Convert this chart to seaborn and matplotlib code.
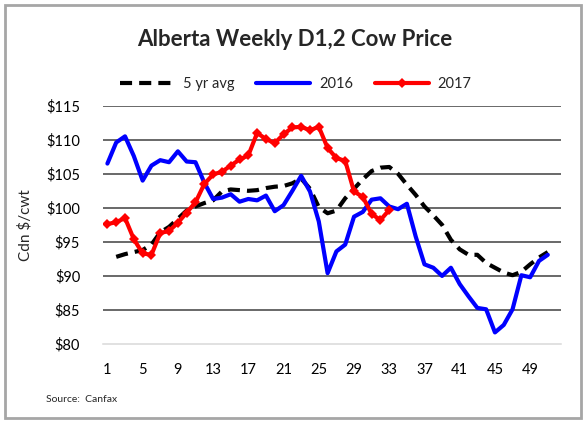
import numpy as np
import pandas as pd
import matplotlib
matplotlib.use("Agg")
import matplotlib.pyplot as plt
from matplotlib.patches import Rectangle
import seaborn as sns

# ---- data ----
weeks = list(range(1, 52))
avg5 = [np.nan, 92.8, 93.2, 93.5, 93.8, 94.6, 96.4, 97.2, 98.4, 99.6,
        100.2, 100.7, 101.1, 102.4, 102.7, 102.6, 102.5, 102.6, 102.9, 103.1,
        103.2, 103.6, 104.3, 102.8, 100.1, 99.2, 99.6, 101.4, 102.8, 104.2,
        105.4, 105.9, 106.0, 105.0, 103.4, 101.9, 100.2, 98.9, 97.5, 95.3,
        93.9, 93.1, 93.1, 91.9, 91.2, 90.5, 90.1, 90.6, 91.7, 92.7, 93.5]
y2016 = [106.5, 109.6, 110.5, 107.6, 104.0, 106.2, 107.0, 106.7, 108.3, 106.8,
         106.7, 103.7, 101.3, 101.5, 102.0, 100.9, 101.3, 101.1, 101.8, 99.5,
         100.4, 102.5, 104.7, 102.4, 98.0, 90.4, 93.6, 94.6, 98.7, 99.4,
         101.2, 101.4, 100.2, 99.8, 100.6, 95.8, 91.7, 91.2, 90.0, 91.2,
         88.8, 87.0, 85.3, 85.1, 81.7, 82.8, 85.1, 90.1, 89.8, 92.2, 93.1]
weeks2017 = list(range(1, 34))
y2017 = [97.6, 97.9, 98.5, 95.4, 93.3, 93.1, 96.3, 96.6, 97.8, 99.3,
         100.8, 103.5, 104.9, 105.3, 106.2, 107.1, 107.7, 111.0, 110.1, 109.5,
         110.8, 111.8, 111.9, 111.4, 111.9, 108.8, 107.3, 106.9, 102.4, 101.6,
         99.1, 98.2, 99.7]
xticks = list(range(1, 52, 4))
yticks = [80, 85, 90, 95, 100, 105, 110, 115]
ytick_labels = ["$" + str(v) for v in yticks]

FONT = ["Lato", "DejaVu Sans"]
sns.set_style("white")
plt.rcParams["font.family"] = FONT

W, H = 586, 422
fig = plt.figure(figsize=(W / 100, H / 100), dpi=100)
ax = fig.add_axes([103 / W, 1 - 344 / H, (561 - 103) / W, (344 - 105.7) / H])

df_avg = pd.DataFrame({"week": weeks, "v": avg5}).dropna()
df16 = pd.DataFrame({"week": weeks, "v": y2016})
df17 = pd.DataFrame({"week": weeks2017, "v": y2017})

# gridlines
for v in yticks[1:]:
    ax.axhline(v, color="#404040", lw=1.1, zorder=0)

sns.lineplot(data=df_avg, x="week", y="v", ax=ax, color="black", lw=3.0,
             label="5 yr avg", zorder=3)
sns.lineplot(data=df16, x="week", y="v", ax=ax, color="#0000FF", lw=3.0,
             label="2016", zorder=4)
sns.lineplot(data=df17, x="week", y="v", ax=ax, color="#FF0000", lw=3.0,
             marker="D", markersize=5, markeredgewidth=0, label="2017", zorder=5)
for ln in ax.get_lines():
    if ln.get_label() == "5 yr avg":
        ln.set_dashes([2.9, 1.7])

ax.set_xlim(0.5, 52.5)
ax.set_ylim(80, 115)
ax.set_xticks(xticks)
ax.set_xticklabels([str(t) for t in xticks])
ax.set_yticks(yticks)
ax.set_yticklabels(ytick_labels)
ax.tick_params(axis="both", length=0, labelsize=10.5, colors="black")
ax.tick_params(axis="y", pad=16.5)
ax.tick_params(axis="x", pad=14)
ax.set_xlabel("")
ax.set_ylabel("Cdn $/cwt", fontsize=11, labelpad=10)
for s in ["top", "right", "left"]:
    ax.spines[s].set_visible(False)
ax.spines["bottom"].set_color("#d9d9d9")
ax.spines["bottom"].set_linewidth(1.1)

handles, labels = ax.get_legend_handles_labels()
ax.get_legend().remove()
leg = fig.legend(handles, labels, loc="center", bbox_to_anchor=(296 / W, 1 - 84 / H),
                 ncol=3, frameon=False, fontsize=10.5, handlelength=3.7,
                 handletextpad=0.6, columnspacing=1.5, numpoints=1)

fig.text(0.503, 1 - 40 / H, "Alberta Weekly D1,2 Cow Price", ha="center", va="center",
         fontsize=16, fontweight="bold")
fig.text(46 / W, 1 - 399 / H, "Source:  Canfax", ha="left", va="center", fontsize=7.5)

fig.patches.append(Rectangle((5 / W, 1 - 417.5 / H), 576 / W, 413 / H,
                             transform=fig.transFigure, fill=False,
                             edgecolor="#a6a6a6", lw=2.0))

fig.savefig("out.png", dpi=100)
